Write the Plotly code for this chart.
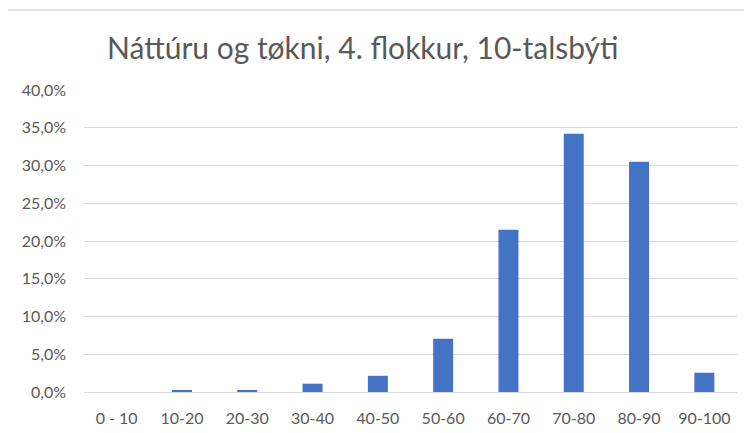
import plotly.graph_objects as go

categories = ["0 - 10", "10-20", "20-30", "30-40", "40-50", "50-60", "60-70", "70-80", "80-90", "90-100"]
shares = [0.0, 0.002, 0.002, 0.011, 0.0215, 0.0705, 0.215, 0.342, 0.305, 0.0255]
y_ticks = [0, 0.05, 0.10, 0.15, 0.20, 0.25, 0.30, 0.35, 0.40]

# page body has an 8px margin; coordinates below are in figure space
W, H = 752, 433
L, T = 76, 82
R = W - 729
B = H - 384
pw, ph = W - L - R, H - T - B

fig = go.Figure(go.Bar(x=categories, y=shares, marker=dict(color="#4472C4", line=dict(width=0))))

font = "Lato, Calibri, sans-serif"
fig.update_layout(
    width=W, height=H, margin=dict(l=L, r=R, t=T, b=B),
    paper_bgcolor="white", plot_bgcolor="white",
    separators=",.",
    bargap=0.694,
    showlegend=False,
    font=dict(family=font, color="#595959", size=16),
    title=dict(text="Náttúru og tøkni, 4. flokkur, 10-talsbýti", xref="container", x=99 / W,
               xanchor="left", yref="container", y=1 - 40 / H, yanchor="middle",
               font=dict(family=font, size=30, color="#595959")),
    xaxis=dict(showgrid=False, showline=False, ticks="", ticklabelstandoff=15,
               tickfont=dict(size=16, color="#595959")),
    yaxis=dict(range=[0, 0.4], tickvals=y_ticks, tickformat=".1%", showgrid=True,
               gridcolor="#D9D9D9", gridwidth=1, zeroline=True, zerolinecolor="#D9D9D9",
               zerolinewidth=1, showline=False, ticks="", ticklabelstandoff=17,
               tickfont=dict(size=16, color="#595959")),
    shapes=[dict(type="rect", xref="paper", yref="paper",
                 x0=-0.2, x1=1.2, y0=-0.3, y1=1 + (T - 2) / ph,
                 line=dict(color="#D9D9D9", width=1.5), fillcolor="rgba(0,0,0,0)", layer="below")],
)

fig.write_html("out.html")
